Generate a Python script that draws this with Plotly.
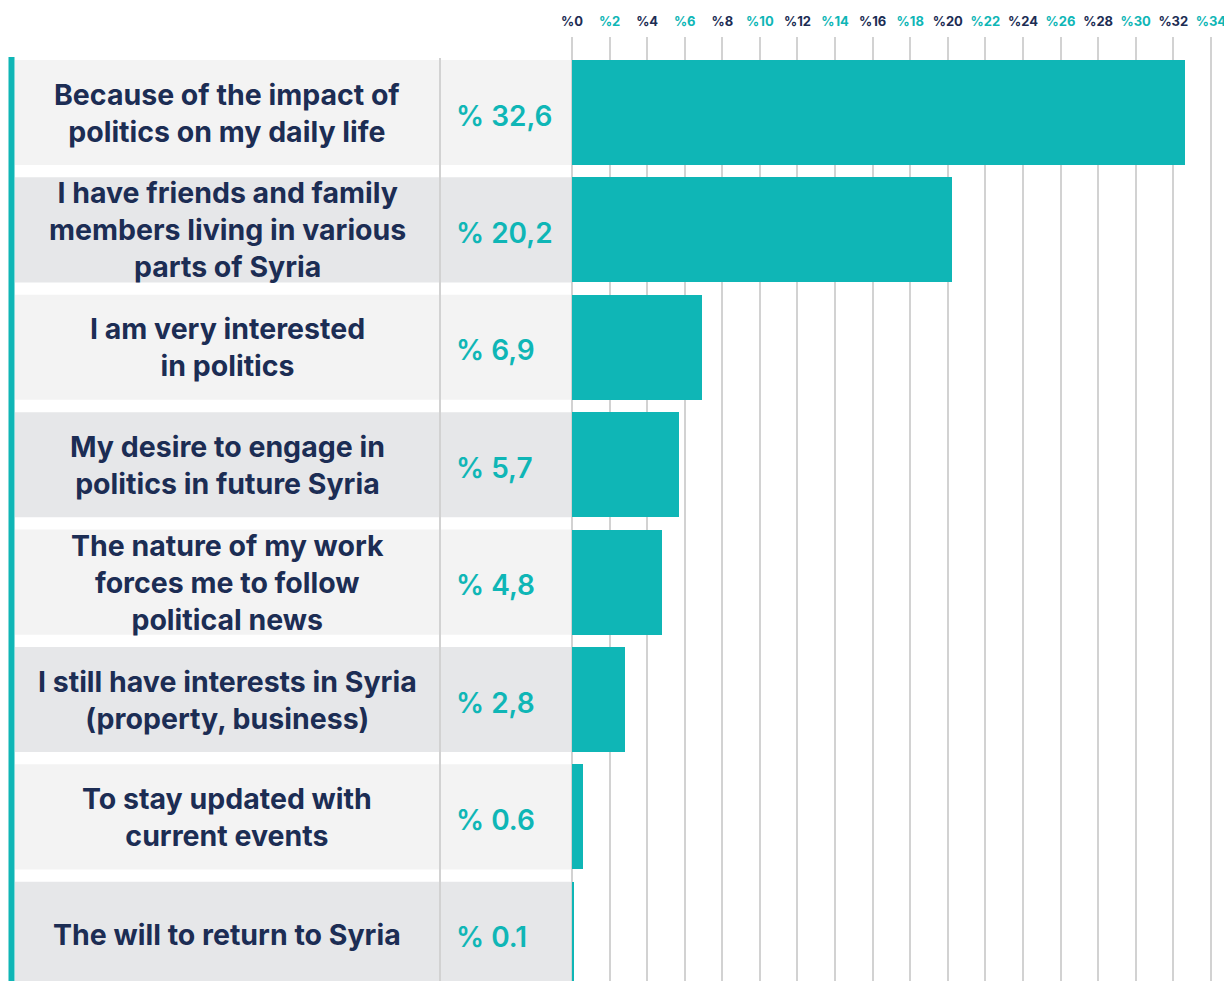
import plotly.graph_objects as go

# Survey answers: reasons for following political news
reasons = [
    "Because of the impact of<br>politics on my daily life",
    "I have friends and family<br>members living in various<br>parts of Syria",
    "I am very interested<br>in politics",
    "My desire to engage in<br>politics in future Syria",
    "The nature of my work<br>forces me to follow<br>political news",
    "I still have interests in Syria<br>(property, business)",
    "To stay updated with<br>current events",
    "The will to return to Syria",
]
shares = [32.6, 20.2, 6.9, 5.7, 4.8, 2.8, 0.6, 0.1]
share_labels = ["% 32,6", "% 20,2", "% 6,9", "% 5,7", "% 4,8", "% 2,8", "% 0.6", "% 0.1"]
tick_values = list(range(0, 35, 2))

TEAL = "#0fb6b6"
NAVY = "#1c2d54"
ROW_LIGHT = "#f3f3f3"
ROW_DARK = "#e6e7e9"
GRID = "#d2d2d2"
FONT = "Inter, Liberation Sans, Arial, sans-serif"

W, H = 1224, 981
rows = list(range(len(reasons)))
bar_w = 0.895

fig = go.Figure(
    go.Bar(
        x=shares,
        y=rows,
        orientation="h",
        width=bar_w,
        marker=dict(color=TEAL, line=dict(width=0)),
        hoverinfo="skip",
    )
)

# Alternating colour of the top tick labels
tick_text = [
    f"<span style='color:{NAVY if i % 2 == 0 else TEAL}'>%{v}</span>"
    for i, v in enumerate(tick_values)
]

shapes = []
annotations = []
for i, (txt, lab) in enumerate(zip(reasons, share_labels)):
    shapes.append(dict(
        type="rect", xref="paper", yref="y",
        x0=15 / W, x1=571 / W, y0=i - bar_w / 2, y1=i + bar_w / 2,
        fillcolor=ROW_LIGHT if i % 2 == 0 else ROW_DARK,
        line=dict(width=0), layer="below",
    ))
    annotations.append(dict(
        xref="paper", yref="y", x=227 / W, y=i, text=txt,
        showarrow=False, xanchor="center", yanchor="middle", align="center",
        font=dict(family=FONT, size=28.5, color=NAVY, weight=700),
    ))
    annotations.append(dict(
        xref="paper", yref="y", x=454 / W, y=i, text=lab, yshift=-3,
        showarrow=False, xanchor="left", yanchor="middle",
        font=dict(family=FONT, size=28, color=TEAL, weight=600),
    ))

# Column divider and left accent line
shapes.append(dict(type="line", xref="paper", yref="paper",
                   x0=440 / W, x1=440 / W, y0=0, y1=1 - 58 / H,
                   line=dict(color=GRID, width=2), layer="above"))
shapes.append(dict(type="line", xref="paper", yref="paper",
                   x0=11.5 / W, x1=11.5 / W, y0=0, y1=1 - 57 / H,
                   line=dict(color=TEAL, width=6), layer="above"))

zero_px = 572
px_per_unit = 18.79
x_max = (W - zero_px) / px_per_unit
top_px = 37
row0_center, row_step = 112.5, 117.4
y_top = (top_px - row0_center) / row_step
y_bottom = (H - row0_center) / row_step

fig.update_layout(
    width=W, height=H,
    margin=dict(l=0, r=0, t=0, b=0, pad=0, autoexpand=False),
    paper_bgcolor="white", plot_bgcolor="white",
    showlegend=False,
    shapes=shapes,
    annotations=annotations,
    bargap=0,
    xaxis=dict(
        domain=[zero_px / W, 1], range=[0, x_max], side="top",
        tickvals=tick_values, ticktext=tick_text,
        tickfont=dict(family=FONT, size=13, weight=700),
        ticks="outside", ticklen=5, tickcolor="rgba(0,0,0,0)",
        ticklabeloverflow="allow", automargin=False,
        showgrid=True, gridcolor=GRID, gridwidth=2,
        zeroline=True, zerolinecolor=GRID, zerolinewidth=2,
        showline=False, fixedrange=True,
    ),
    yaxis=dict(
        domain=[0, 1 - top_px / H], range=[y_bottom, y_top], automargin=False,
        showticklabels=False, showgrid=False, zeroline=False, showline=False,
    ),
)

fig.write_html("out.html")
